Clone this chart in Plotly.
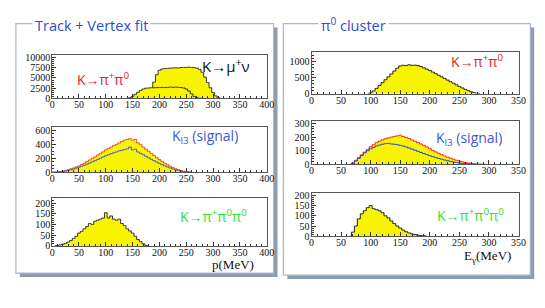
import plotly.graph_objects as go

W, H = 545, 308

# ---------------- data (bin centers in MeV, counts) ----------------
p_x_mu = list(range(140, 320, 5))
p_kmunu = [0, 60, 150, 250, 350, 450, 600, 800, 1100, 2000, 4000, 5800, 6900, 7200, 7300, 7350,
           7400, 7450, 7500, 7450, 7550, 7600, 7600, 7650, 7600, 7550, 7400, 7100, 6400, 5200,
           3900, 2600, 1400, 600, 150, 0]
p_x_pi = list(range(140, 285, 5))
p_kpi2 = [0, 150, 500, 1000, 1500, 1950, 2300, 2500, 2550, 2600, 2600, 2650, 2650, 2700, 2650,
          2700, 2750, 2700, 2750, 2700, 2650, 2550, 2300, 1800, 1100, 450, 150, 30, 0]

p_x_kl3 = list(range(0, 265, 5))
p_kl3_tot = [0, 1, 2, 8, 15, 25, 35, 48, 60, 75, 90, 110, 130, 152, 175, 198, 220, 245, 270, 292,
             320, 340, 360, 382, 400, 420, 440, 460, 470, 480, 460, 470, 420, 395, 360, 330, 300,
             270, 240, 210, 180, 155, 130, 108, 85, 66, 50, 37, 25, 15, 8, 3, 0]
p_kl3_sig = [0, 0, 0, 5, 10, 18, 25, 35, 45, 58, 70, 85, 100, 115, 130, 148, 165, 182, 200, 218,
             235, 250, 265, 278, 290, 305, 315, 325, 335, 360, 320, 330, 290, 270, 250, 228, 205,
             185, 165, 145, 125, 108, 90, 75, 60, 47, 35, 24, 15, 8, 3, 1, 0]

p_x_k3 = list(range(5, 185, 5))
p_kpi3 = [0, 2, 5, 8, 12, 18, 25, 35, 45, 60, 68, 80, 90, 105, 100, 115, 120, 125, 130, 155,
          130, 140, 125, 120, 125, 105, 95, 80, 70, 60, 45, 30, 20, 10, 3, 0]

e_x_pi = list(range(95, 290, 5))
e_kpi2 = [0, 20, 80, 160, 250, 340, 430, 520, 610, 700, 790, 860, 880, 870, 895, 880, 885, 870,
          840, 800, 760, 720, 670, 620, 570, 520, 470, 420, 370, 320, 270, 220, 175, 130, 90, 55,
          25, 8, 0]

e_x_kl3 = list(range(65, 300, 5))
e_kl3_tot = [0, 10, 30, 50, 70, 90, 110, 130, 145, 160, 170, 180, 188, 195, 200, 205, 210, 215,
             205, 198, 190, 180, 170, 160, 150, 140, 128, 115, 103, 92, 82, 72, 62, 53, 45, 38,
             31, 25, 19, 14, 10, 7, 5, 3, 2, 1, 0]
e_kl3_sig = [0, 5, 25, 45, 65, 85, 100, 115, 125, 135, 142, 148, 152, 155, 150, 148, 145, 140,
             135, 128, 120, 112, 104, 96, 88, 80, 72, 64, 57, 50, 44, 38, 32, 27, 22, 18, 14, 10,
             7, 5, 3, 2, 1, 0, 0, 0, 0]

e_x_k3 = list(range(65, 200, 5))
e_kpi3 = [0, 20, 50, 85, 110, 125, 140, 150, 135, 130, 125, 115, 100, 90, 75, 62, 50, 40, 30,
          22, 16, 11, 8, 5, 3, 2, 0]

YEL = "#f8f400"
fig = go.Figure()


def px(x):
    return x / W


def py(y):
    return 1 - y / H


# subplot geometry: (x0, x1, ytop, ybottom, xmax, ymax, dtick)
subs = [
    (42, 261, 45, 90, 400, 10714, 2500),
    (42, 261, 119, 166, 400, 656, 200),
    (42, 261, 193, 242, 400, 222, 50),
    (306.7, 518, 42, 85, 350, 1303, 500),
    (306.7, 518, 113, 158, 350, 321, 100),
    (306.7, 518, 187, 232, 350, 214, 50),
]


def hist(i, x, y, fillcol, linecol, fill=True, lw=1):
    ax = "" if i == 0 else str(i + 1)
    fig.add_trace(go.Scatter(
        x=x, y=y, mode="lines", line=dict(shape="hvh", color=linecol, width=lw),
        fill="tozeroy" if fill else None, fillcolor=fillcol,
        xaxis="x" + ax, yaxis="y" + ax, showlegend=False, hoverinfo="skip"))


hist(0, p_x_mu, p_kmunu, YEL, "#333333")
hist(0, p_x_pi, p_kpi2, YEL, "#333333")
hist(1, p_x_kl3, p_kl3_tot, YEL, "#ff4020")
hist(1, p_x_kl3, p_kl3_sig, None, "#3a5ad8", fill=False)
hist(2, p_x_k3, p_kpi3, YEL, "#333333")
hist(3, e_x_pi, e_kpi2, YEL, "#222222")
hist(4, e_x_kl3, e_kl3_tot, YEL, "#ff2020")
hist(4, e_x_kl3, e_kl3_sig, None, "#2040e8", fill=False)
hist(5, e_x_k3, e_kpi3, YEL, "#222222")

tickfont = dict(family="Liberation Serif, Times New Roman, serif", size=10, color="#111111")
layout = {}
for i, (x0, x1, yt, yb, xmax, ymax, dt) in enumerate(subs):
    ax = "" if i == 0 else str(i + 1)
    layout["xaxis" + ax] = dict(
        domain=[px(x0), px(x1)], range=[0, xmax], anchor="y" + ax, dtick=50,
        ticks="inside", ticklen=4, tickcolor="#333", showline=True, linecolor="#555",
        linewidth=1, mirror=True, showgrid=False, zeroline=False, tickfont=tickfont,
        ticklabelstandoff=-3, tickformat="d",
        minor=dict(ticks="inside", ticklen=2, dtick=10, tickcolor="#333"))
    layout["yaxis" + ax] = dict(
        domain=[py(yb), py(yt)], range=[0, ymax], anchor="x" + ax, dtick=dt,
        ticks="inside", ticklen=4, tickcolor="#333", showline=True, linecolor="#555",
        linewidth=1, mirror=True, showgrid=False, zeroline=False, tickfont=tickfont,
        tickformat="d", ticklabelstandoff=-1,
        minor=dict(ticks="inside", ticklen=2, nticks=5, tickcolor="#333"))

# panel frames with shadows
shapes = []
for (a, b, c, d) in [(5, 13, 268, 270), (278, 13, 530, 272)]:
    shapes.append(dict(type="rect", xref="paper", yref="paper", x0=px(a + 4), x1=px(c + 4),
                       y0=py(d + 4), y1=py(b + 4), fillcolor="#8f9cab",
                       line=dict(width=0), layer="below"))
    shapes.append(dict(type="rect", xref="paper", yref="paper", x0=px(a), x1=px(c),
                       y0=py(d), y1=py(b), fillcolor="white",
                       line=dict(color="#aab6d6", width=1.2), layer="below"))

sans = "Open Sans"
ann = []


def text(x, y, t, color, size, family=sans, bg=None, xanchor="left"):
    ann.append(dict(x=px(x), y=py(y), xref="paper", yref="paper", text=t, showarrow=False,
                    xanchor=xanchor, yanchor="middle",
                    font=dict(family=family, size=size, color=color),
                    bgcolor=bg, borderpad=2))


text(82, 15, "Track + Vertex fit", "#2a4fd0", 14.5, bg="white", xanchor="center")
text(350, 14, "π<sup>0</sup> cluster", "#2a4fd0", 14.5, bg="white", xanchor="center")
text(192, 56, "K→μ<sup>+</sup>ν", "#111111", 15)
text(64, 70, "K→π<sup>+</sup>π<sup>0</sup>", "#e8202a", 14)
text(161, 129, "K<sub>l3</sub> (signal)", "#3a58d8", 14)
text(169, 211, "K→π<sup>+</sup>π<sup>0</sup>π<sup>0</sup>", "#30e030", 14)
text(446, 51, "K→π<sup>+</sup>π<sup>0</sup>", "#e8202a", 14)
text(431, 131, "K<sub>l3</sub> (signal)", "#3a58d8", 14)
text(432, 210, "K→π<sup>+</sup>π<sup>0</sup>π<sup>0</sup>", "#30e030", 14)
text(202, 261, "p(MeV)", "#111111", 13, family="Liberation Serif")
text(459, 253, "E<sub>γ</sub>(MeV)", "#111111", 13, family="Liberation Serif")

fig.update_layout(width=W, height=H, margin=dict(l=0, r=0, t=0, b=0),
                  paper_bgcolor="white", plot_bgcolor="rgba(0,0,0,0)",
                  shapes=shapes, annotations=ann, showlegend=False, **layout)
fig.write_html("out.html")
